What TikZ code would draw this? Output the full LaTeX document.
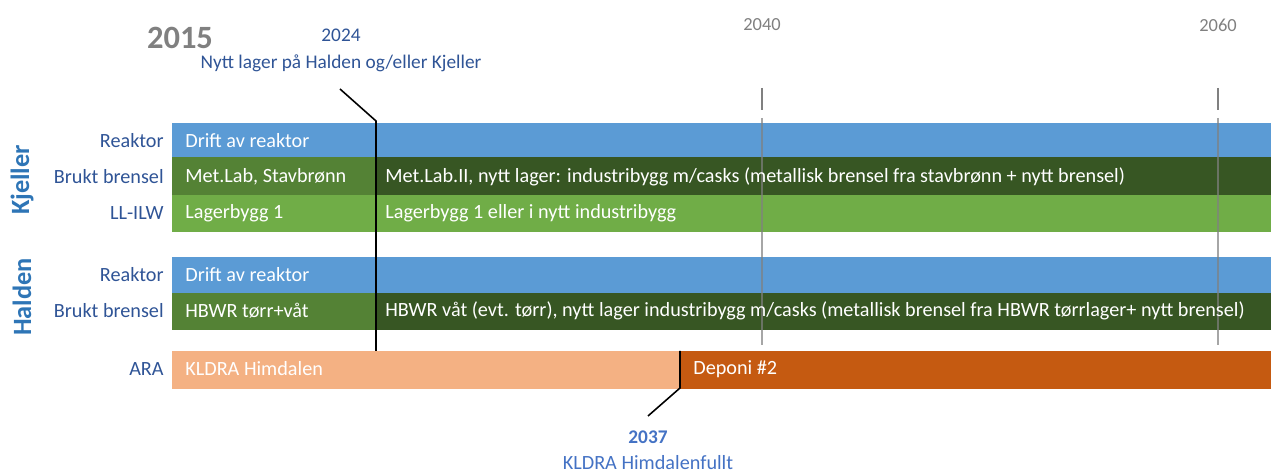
\documentclass[tikz,border=0pt]{standalone}
\usepackage{fontspec}
\setmainfont{Carlito}
\usetikzlibrary{positioning}
\definecolor{reakblue}{HTML}{5B9BD5}
\definecolor{fuelgreen}{HTML}{548235}
\definecolor{fueldark}{HTML}{375623}
\definecolor{llgreen}{HTML}{70AD47}
\definecolor{araorange}{HTML}{F4B183}
\definecolor{aradark}{HTML}{C55A11}
\definecolor{labelblue}{HTML}{2F5496}
\definecolor{siteblue}{HTML}{2E75B6}
\definecolor{noteblue}{HTML}{4472C4}
\tikzstyle{rowlabel}=[anchor=east, inner sep=0pt, text=labelblue, font=\fontsize{11.5}{13}\selectfont]
\tikzstyle{bartext}=[anchor=west, inner sep=0pt, text=white, font=\fontsize{11.5}{13}\selectfont]
\tikzstyle{site}=[rotate=90, inner sep=0pt, text=siteblue, font=\fontsize{15}{17}\selectfont\bfseries]
\tikzstyle{yearlabel}=[inner sep=0pt, text=gray, font=\fontsize{10.5}{12}\selectfont]
\tikzstyle{note}=[inner sep=0pt, text=labelblue, font=\fontsize{11}{13}\selectfont]
\tikzstyle{marker}=[black, line width=0.9pt]
\tikzstyle{gridline}=[gray, line width=0.7pt]

\begin{document}
\begin{tikzpicture}[x=0.02cm, y=-0.02cm]
	\useasboundingbox (0,0) rectangle (1271,475);
	% Kjeller
	\fill[reakblue] (172,123) rectangle (1271,157);
	\fill[fuelgreen] (172,157) rectangle (376,195);
	\fill[fueldark] (376,157) rectangle (1271,195);
	\fill[llgreen] (172,195) rectangle (1271,232);
	% Halden
	\fill[reakblue] (172,257) rectangle (1271,293);
	\fill[fuelgreen] (172,293) rectangle (376,330);
	\fill[fueldark] (376,293) rectangle (1271,330);
	% ARA
	\fill[araorange] (172,351) rectangle (680,389);
	\fill[aradark] (680,351) rectangle (1271,389);
	% years 2040 / 2060
	\foreach \xx/\yy in {762/2040, 1218/2060} {
		\node[yearlabel] (y\yy) at (\xx,25) {\yy};
		\draw[gridline] (\xx,88) -- (\xx,110);
		\draw[gridline, opacity=0.7] (\xx,118) -- (\xx,345);
	}
	\node[text=gray, inner sep=0pt, font=\fontsize{18.5}{20}\selectfont\bfseries] (y2015) at (180,38) {2015};
	% row labels
	\node[site] (kjeller) at (22,180) {Kjeller};
	\node[site] (halden) at (22,297) {Halden};
	\node[rowlabel] (kreak) at (164,141) {Reaktor};
	\node[rowlabel] (kfuel) at (164,177) {Brukt brensel};
	\node[rowlabel] (kllw) at (164,213) {LL-ILW};
	\node[rowlabel] (hreak) at (164,275) {Reaktor};
	\node[rowlabel] (hfuel) at (164,311) {Brukt brensel};
	\node[rowlabel] (ara) at (164,369) {ARA};
	% bar texts
	\node[bartext] (kdrift) at (185,141) {Drift av reaktor};
	\node[bartext] (kmet) at (185,177) {Met.Lab, Stavbrønn};
	\node[bartext] (kmet2) at (385,177) {Met.Lab.II, nytt lager: industribygg m/casks (metallisk brensel fra stavbrønn + nytt brensel)};
	\node[bartext] (klag) at (185,213) {Lagerbygg 1};
	\node[bartext] (klag2) at (385,213) {Lagerbygg 1 eller i nytt industribygg};
	\node[bartext] (hdrift) at (185,275) {Drift av reaktor};
	\node[bartext] (hbwr) at (185,311) {HBWR tørr+våt};
	\node[bartext] (hbwr2) at (385,311) {HBWR våt (evt. tørr), nytt lager industribygg m/casks (metallisk brensel fra HBWR tørrlager+ nytt brensel)};
	\node[bartext] (kldra) at (185,369) {KLDRA Himdalen};
	\node[bartext] (deponi) at (693,369) {Deponi \#2};
	% 2024 marker
	\node[note] (n2024) at (341,35) {2024};
	\node[note, below=28*0.02cm of n2024.center, anchor=center] (nytt) {Nytt lager på Halden og/eller Kjeller};
	\coordinate (m24a) at (340,89);
	\coordinate (m24b) at (376,121);
	\coordinate (m24c) at (376,351);
	\draw[marker] (m24a) -- (m24b) -- (m24c);
	% 2037 marker
	\node[note, text=noteblue, font=\fontsize{11}{13}\selectfont\bfseries] (n2037) at (648,437) {2037};
	\node[note, text=noteblue, font=\fontsize{11.5}{13}\selectfont] (kfull) at (648,463) {KLDRA Himdalenfullt};
	\coordinate (m37a) at (680,351);
	\coordinate (m37b) at (680,388);
	\coordinate (m37c) at (648,416);
	\draw[marker] (m37a) -- (m37b) -- (m37c);
\end{tikzpicture}
\end{document}
